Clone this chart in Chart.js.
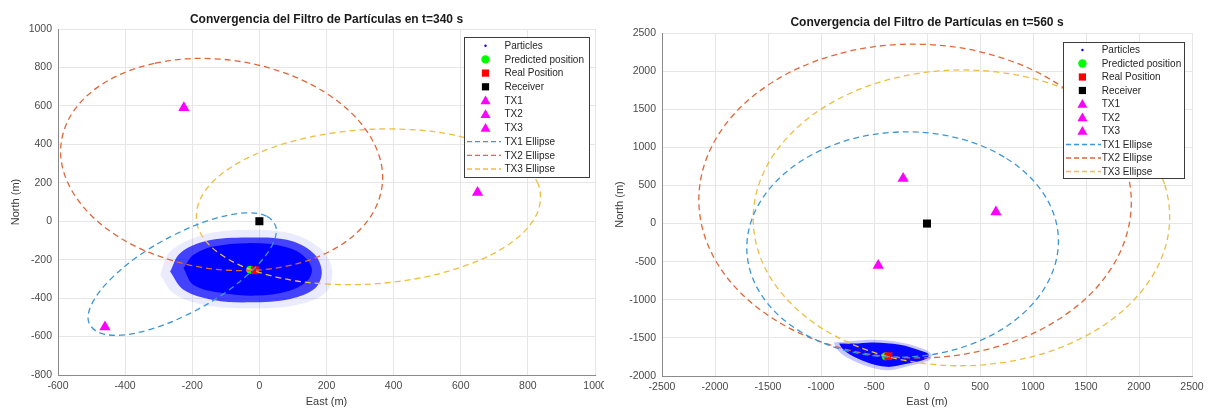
<!DOCTYPE html>
<html><head><meta charset="utf-8">
<script src="https://cdn.jsdelivr.net/npm/chart.js@4/dist/chart.umd.min.js"></script>
<style>
body{margin:0;background:#fff;width:1208px;height:410px;overflow:hidden;position:relative}
.w{position:absolute;top:0;width:604px;height:410px}
</style></head><body>
<div class="w" style="left:0"><canvas id="c1" width="604" height="410"></canvas></div>
<div class="w" style="left:604px"><canvas id="c2" width="604" height="410"></canvas></div>
<script>
// ---------- data ----------
const titles = ['Convergencia del Filtro de Partículas en t=340 s','Convergencia del Filtro de Partículas en t=560 s'];
const legendLabels = ['Particles','Predicted position','Real Position','Receiver','TX1','TX2','TX3','TX1 Ellipse','TX2 Ellipse','TX3 Ellipse'];
const xTitle = 'East (m)';
const yTitle = 'North (m)';

const xTicks340 = [-600,-400,-200,0,200,400,600,800,1000];
const yTicks340 = [-800,-600,-400,-200,0,200,400,600,800,1000];
const xTicks560 = [-2500,-2000,-1500,-1000,-500,0,500,1000,1500,2000,2500];
const yTicks560 = [-2000,-1500,-1000,-500,0,500,1000,1500,2000,2500];

const receiver = [[0,0]];
const tx1 = [[-460,-550]];
const tx2 = [[-225,590]];
const tx3 = [[650,150]];

const predicted340 = [[-27,-252]];
const real340 = [[-13,-255]];
const predicted560 = [[-390,-1742]];
const real560 = [[-364,-1740]];

// particle cloud outlines (t=340)
const cloudFringe340 = [[-296,-279],[-266,-158],[-166,-71],[-37,-45],[92,-62],[181,-140],[216,-245],[201,-366],[112,-436],[-27,-453],[-166,-436],[-256,-375]];
const cloudMid340 = [[-266,-262],[-236,-166],[-156,-102],[-37,-85],[82,-97],[161,-166],[186,-262],[166,-349],[92,-404],[-27,-422],[-137,-410],[-226,-357]];
const cloudCore340 = [[-226,-245],[-196,-175],[-137,-132],[-37,-114],[62,-127],[122,-166],[156,-245],[141,-314],[82,-366],[-7,-387],[-107,-375],[-196,-332]];
// particle cloud outlines (t=560)
const cloudFringe560 = [[-880,-1560],[-700,-1540],[-500,-1525],[-250,-1560],[-50,-1635],[40,-1710],[20,-1795],[-190,-1875],[-380,-1925],[-600,-1855],[-770,-1745],[-850,-1645]];
const cloudCore560 = [[-830,-1575],[-695,-1575],[-506,-1560],[-255,-1590],[-66,-1665],[12,-1711],[-3,-1775],[-192,-1840],[-380,-1880],[-568,-1820],[-735,-1710],[-800,-1640]];

// ellipses (t=340)
const ell1_340 = [[22,26],[-44,43],[-138,11],[-247,-65],[-353,-172],[-440,-296],[-495,-416],[-510,-514],[-482,-576],[-416,-593],[-322,-561],[-213,-485],[-107,-378],[-20,-254],[35,-135],[50,-36]];
const ell2_340 = [[-313,821],[-464,718],[-562,550],[-592,343],[-548,129],[-438,-60],[-279,-194],[-94,-255],[88,-231],[239,-128],[337,40],[367,247],[323,461],[213,650],[54,784],[-131,845]];
const ell3_340 = [[831,192],[758,331],[619,432],[436,478],[236,463],[49,389],[-96,267],[-176,116],[-181,-42],[-108,-181],[31,-282],[214,-328],[415,-313],[601,-239],[746,-117],[826,35]];
// ellipses (t=560)
const ell1_560 = [[729,872],[230,1141],[-339,1195],[-892,1025],[-1344,657],[-1626,147],[-1696,-427],[-1542,-978],[-1189,-1422],[-690,-1691],[-121,-1745],[432,-1575],[884,-1207],[1166,-697],[1236,-123],[1082,428]];
const ell2_560 = [[-847,2221],[-1520,1797],[-1978,1144],[-2152,361],[-2016,-431],[-1590,-1113],[-939,-1580],[-163,-1762],[622,-1631],[1295,-1207],[1753,-554],[1927,229],[1791,1021],[1365,1703],[714,2170],[-62,2352]];
const ell3_560 = [[2241,517],[1928,1206],[1372,1723],[656,1989],[-111,1963],[-811,1651],[-1338,1098],[-1612,389],[-1591,-367],[-1278,-1056],[-722,-1573],[-6,-1839],[761,-1813],[1461,-1501],[1988,-948],[2262,-239]];

// ---------- styling / building ----------
const FONT = '"Liberation Sans", Arial, Helvetica, sans-serif';
Chart.defaults.font.family = FONT;
const C_BLUE = '#3d96d8', C_ORANGE = '#e0673a', C_YELLOW = '#efbd44';

const pts = a => a.map(p => ({x:p[0], y:p[1]}));
const closed = a => pts(a.concat([a[0]]));
// wrap the loop with one extra point on each side so the spline is smooth at the seam
const wrapped = a => pts([a[a.length-1]].concat(a, [a[0], a[1]]));

function cloudDS(a, color, order){
  return {data: closed(a), showLine:true, tension:0.35, pointRadius:0, borderWidth:0,
    backgroundColor: color, fill:'shape', order: order};
}
function ellDS(a, color){
  const d = wrapped(a), n = d.length;
  return {data: d, showLine:true, tension:0.35, pointRadius:0, borderWidth:1.3,
    borderColor: color, borderDash:[6,4], fill:false, order:1,
    segment:{borderColor: c => (c.p0DataIndex === 0 || c.p0DataIndex === n-2) ? 'rgba(0,0,0,0)' : undefined}};
}
function markDS(a, style, r, color, order){
  return {data: pts(a), pointStyle: style, pointRadius: r, pointBackgroundColor: color,
    pointBorderColor: color, pointBorderWidth: 0, order: order};
}

const legendKinds = [
  {k:'dot', c:'#0000ff'}, {k:'circle', c:'#00ff00'}, {k:'square', c:'#ff0000'}, {k:'square', c:'#000000'},
  {k:'tri', c:'#ff00ff'}, {k:'tri', c:'#ff00ff'}, {k:'tri', c:'#ff00ff'},
  {k:'line', c:C_BLUE}, {k:'line', c:C_ORANGE}, {k:'line', c:C_YELLOW}
];

const overlay = {
  id:'overlay',
  afterDraw(chart, args, o){
    const ctx = chart.ctx, ca = chart.chartArea;
    ctx.save();
    ctx.font = 'bold 12px ' + FONT; ctx.fillStyle = '#1a1a1a';
    ctx.textAlign = 'center'; ctx.textBaseline = 'middle';
    ctx.fillText(o.title, (ca.left + ca.right)/2, o.titleY);
    // legend
    const L = o.legend;
    ctx.fillStyle = '#fff'; ctx.fillRect(L.x, L.y, L.w, L.h);
    ctx.strokeStyle = '#3c3c3c'; ctx.lineWidth = 1;
    ctx.strokeRect(L.x + 0.5, L.y + 0.5, L.w, L.h);
    ctx.font = '10px ' + FONT; ctx.textAlign = 'left'; ctx.textBaseline = 'middle';
    legendLabels.forEach((lab, i) => {
      const y = L.firstY + i * L.step, s = legendKinds[i], x = L.symX;
      ctx.fillStyle = s.c; ctx.strokeStyle = s.c;
      if (s.k === 'dot') { ctx.beginPath(); ctx.arc(x, y, 1.2, 0, Math.PI*2); ctx.fill(); }
      else if (s.k === 'circle') { ctx.beginPath(); ctx.arc(x, y, 4.2, 0, Math.PI*2); ctx.fill(); }
      else if (s.k === 'square') { ctx.fillRect(x - 3.6, y - 3.6, 7.2, 7.2); }
      else if (s.k === 'tri') { ctx.beginPath(); ctx.moveTo(x, y - 5); ctx.lineTo(x + 5, y + 3.8); ctx.lineTo(x - 5, y + 3.8); ctx.closePath(); ctx.fill(); }
      else { ctx.setLineDash([5,3]); ctx.lineWidth = 1.3; ctx.beginPath(); ctx.moveTo(L.lineX0, y); ctx.lineTo(L.lineX1, y); ctx.stroke(); ctx.setLineDash([]); }
      ctx.fillStyle = '#262626';
      ctx.fillText(lab, L.textX, y + 0.5);
    });
    ctx.restore();
  }
};

function axis(ticks, isX, size){
  return {
    type:'linear', min: ticks[0], max: ticks[ticks.length-1],
    ticks:{stepSize: ticks[1]-ticks[0], color:'#4a4a4a', font:{size:10.5}, padding: isX ? 5 : 6,
      autoSkip:false, maxRotation:0, callback: v => String(v)},
    grid:{color:'#e6e6e6', lineWidth:1, drawTicks:false},
    border:{display:true, color:'#8a8a8a', width:1},
    title:{display:true, text: isX ? xTitle : yTitle, color:'#3a3a3a', font:{size:11},
      padding: isX ? {top:0, bottom:1} : {top:9, bottom:0}},
    afterFit(s){
      if (isX) { s.height = size; s.paddingLeft = 0; s.paddingRight = 0; }
      else { s.width = size; s.paddingTop = 0; s.paddingBottom = 0; }
    }
  };
}

function makeChart(id, cfg){
  return new Chart(document.getElementById(id), {
    type:'scatter',
    data:{datasets: cfg.datasets},
    options:{
      responsive:false, animation:false, devicePixelRatio:1,
      layout:{padding: cfg.padding},
      scales:{x: axis(cfg.xt, true, cfg.xh), y: axis(cfg.yt, false, 58)},
      plugins:{legend:{display:false}, tooltip:{enabled:false}, overlay: cfg.overlay},
      events:[]
    },
    plugins:[overlay]
  });
}

makeChart('c1', {
  xt: xTicks340, yt: yTicks340, xh: 35,
  padding:{top:29, right:9, left:0, bottom:0},
  datasets:[
    cloudDS(cloudFringe340, 'rgba(0,0,255,0.08)', 9),
    cloudDS(cloudMid340, 'rgba(0,0,255,0.72)', 8),
    cloudDS(cloudCore340, 'rgba(0,0,255,0.98)', 7),
    ellDS(ell1_340, C_BLUE), ellDS(ell2_340, C_ORANGE), ellDS(ell3_340, C_YELLOW),
    markDS(predicted340, 'circle', 4, '#00ff00', 3),
    markDS(real340, 'rect', 5.5, '#ff0000', 2),
    markDS(receiver, 'rect', 5.7, '#000000', 0),
    markDS(tx1, 'triangle', 6.5, '#ff00ff', 0),
    markDS(tx2, 'triangle', 6.5, '#ff00ff', 0),
    markDS(tx3, 'triangle', 6.5, '#ff00ff', 0)
  ],
  overlay:{title: titles[0], titleY:20,
    legend:{x:464, y:37, w:125, h:140, firstY:45.7, step:13.7, symX:485.5, textX:504.5, lineX0:467, lineX1:501}}
});

makeChart('c2', {
  xt: xTicks560, yt: yTicks560, xh: 34,
  padding:{top:33, right:16, left:0, bottom:0},
  datasets:[
    cloudDS(cloudFringe560, 'rgba(0,0,255,0.22)', 9),
    cloudDS(cloudCore560, 'rgba(0,0,255,0.97)', 8),
    ellDS(ell1_560, C_BLUE), ellDS(ell2_560, C_ORANGE), ellDS(ell3_560, C_YELLOW),
    markDS(predicted560, 'circle', 4, '#00ff00', 3),
    markDS(real560, 'rect', 5.5, '#ff0000', 2),
    markDS(receiver, 'rect', 5.7, '#000000', 0),
    markDS(tx1, 'triangle', 6.5, '#ff00ff', 0),
    markDS(tx2, 'triangle', 6.5, '#ff00ff', 0),
    markDS(tx3, 'triangle', 6.5, '#ff00ff', 0)
  ],
  overlay:{title: titles[1], titleY:23,
    legend:{x:459, y:42, w:121, h:136, firstY:50, step:13.5, symX:478.4, textX:497.7, lineX0:462, lineX1:497}}
});
</script>
</body></html>
